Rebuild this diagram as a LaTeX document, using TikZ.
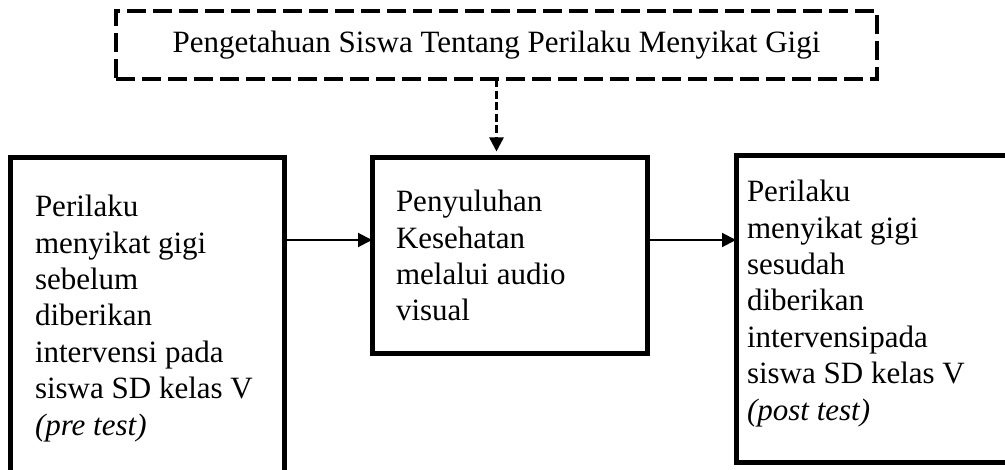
\documentclass[tikz,border=0pt]{standalone}
\usepackage{fontspec}
\setmainfont{Liberation Serif}
\usetikzlibrary{arrows.meta}

% text of a box: width, height, lines (top aligned)
\newcommand{\boxtext}[3]{\parbox[t][#2pt][t]{#1pt}{#3}}

\begin{document}
\begin{tikzpicture}[x=1pt,y=-1pt,>={Triangle[length=14pt,width=14pt]},line width=2pt]
    \tikzstyle{box}=[draw=black, line width=5pt, anchor=north west, outer sep=0pt, font=\fontsize{31}{36.4}\selectfont]
    \tikzstyle{know}=[draw=black, line width=4pt, dash pattern=on 19pt off 7pt, minimum width=761pt, minimum height=68pt, inner sep=0pt, outer sep=0pt, font=\fontsize{31}{36.4}\selectfont]
    \tikzstyle{dashline}=[line width=2.5pt, dash pattern=on 8pt off 3.5pt]

    \useasboundingbox (0,0) rectangle (1005,470);
    \clip (0,0) rectangle (1005,470);

    \node[know] (pengetahuan) at (496.5,45.4) {Pengetahuan Siswa Tentang Perilaku Menyikat Gigi};

    \node[box, inner xsep=24.5pt, inner ysep=37.7pt] (pre) at (10.5,157.5)
        {\boxtext{224.5}{250}{Perilaku\\ menyikat gigi\\ sebelum\\ diberikan\\ intervensi pada\\ siswa SD kelas V\\ \textit{(pre test)}}};
    \node[box, inner xsep=24pt, inner ysep=32.7pt] (penyuluhan) at (372,157.5)
        {\boxtext{227}{131}{Penyuluhan\\ Kesehatan\\ melalui audio\\ visual}};
    \node[box, inner xsep=11pt, inner ysep=24.2pt] (post) at (736,156)
        {\boxtext{278}{258.6}{Perilaku\\ menyikat gigi\\ sesudah\\ diberikan\\ intervensipada\\ siswa SD kelas V\\ \textit{(post test)}}};

    \coordinate (flow) at (0,240);
    \draw[->] (pre.east |- flow) -- (penyuluhan.west |- flow);
    \draw[->] (penyuluhan.east |- flow) -- (post.west |- flow);
    \draw[->, dashline, shorten >=6pt] (pengetahuan.south) -- (pengetahuan.south |- penyuluhan.north);
\end{tikzpicture}
\end{document}
